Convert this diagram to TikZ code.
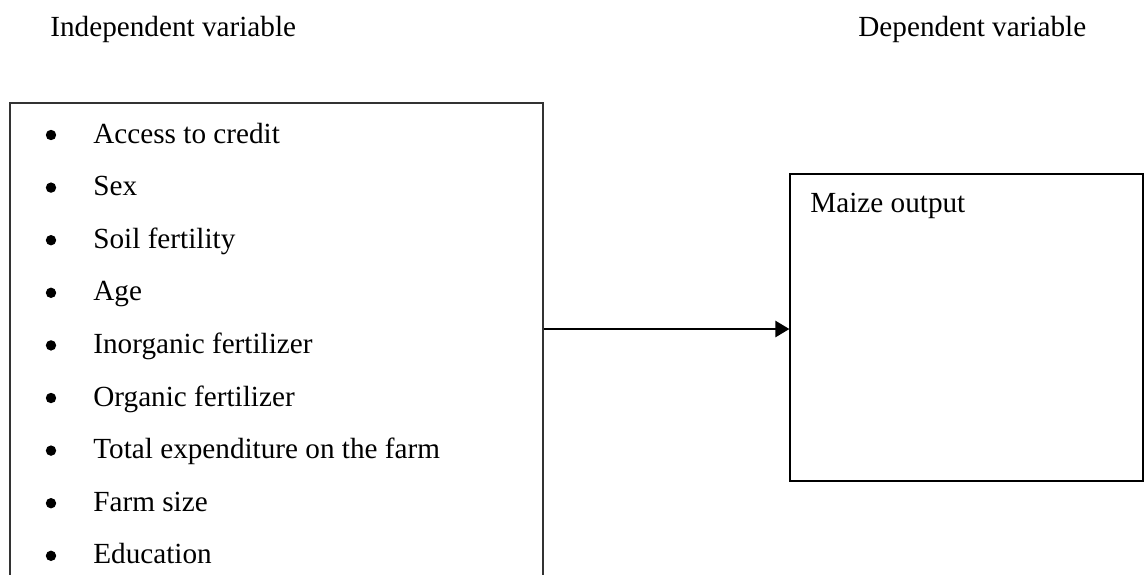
\documentclass[tikz,border=0pt]{standalone}
\usepackage{fontspec}
\setmainfont{Liberation Serif}
\usetikzlibrary{arrows.meta,fit}
\begin{document}
\begin{tikzpicture}[x=0.5pt,y=-0.5pt,
  lbl/.style={anchor=base west,inner sep=0pt,font=\fontsize{14.6}{18}\selectfont},
  frame/.style={draw=black!80,line width=0.8pt,inner sep=0pt},
  dot/.style={circle,fill=black,inner sep=0pt,minimum size=5.2pt},
  link/.style={line width=1.3pt,-{Triangle[length=7pt,width=8pt]}}]
\useasboundingbox (0,0) rectangle (1144,574);
\clip (0,0) rectangle (1144,574);

% column headings
\node[lbl] (hind) at (50,36) {Independent variable};
\node[lbl] (hdep) at (858,36) {Dependent variable};

% box of explanatory factors (runs on past the lower edge)
\coordinate (lnw) at (10,103);
\coordinate (lse) at (543,640);
\node[frame,fit=(lnw)(lse)] (factors) {};

\foreach \t [count=\i from 0] in {Access to credit,Sex,Soil fertility,Age,
    Inorganic fertilizer,Organic fertilizer,Total expenditure on the farm,
    Farm size,Education}{
  \node[dot] (b\i) at (51,135+52.6*\i) {};
  \node[lbl] (t\i) at (93,143+52.6*\i) {\t};
}

% outcome box
\coordinate (rnw) at (790,174);
\coordinate (rse) at (1143,481);
\node[draw=black,line width=0.6pt,inner sep=0pt,fit=(rnw)(rse)] (output) {};
\node[lbl] (tout) at (810,212) {Maize output};

% connector
\coordinate (ay) at (0,329);
\draw[link] (factors.east |- ay) -- (output.west |- ay);
\end{tikzpicture}
\end{document}
